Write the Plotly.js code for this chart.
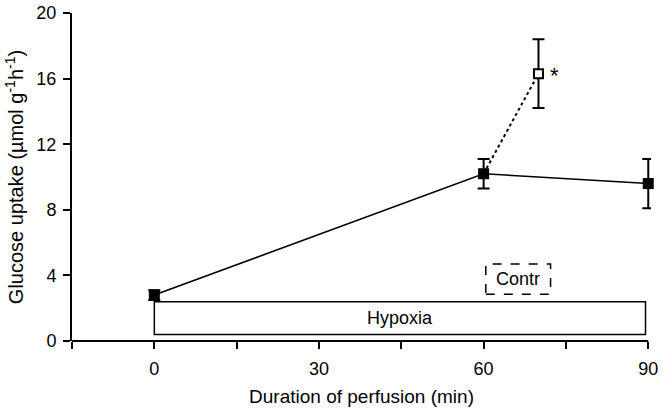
<!DOCTYPE html>
<html><head><meta charset="utf-8">
<script src="https://cdn.plot.ly/plotly-3.0.1.min.js"></script>
<style>body{margin:0;background:#fff}#c{width:664px;height:417px}</style>
</head><body><div id="c"></div>
<script>
// Data
const hypoxiaX = [0, 60, 90];
const hypoxiaY = [2.8, 10.2, 9.6];
const hypoxiaErr = [0.3, 0.9, 1.5];
const controlX = [60, 70];
const controlY = [10.2, 16.3];
const controlErr = [0, 2.1];
const xTickVals = [-15, 0, 15, 30, 45, 60, 75, 90];
const xTickText = ['', '0', '', '30', '', '60', '', '90'];
const yTickVals = [0, 4, 8, 12, 16, 20];
const xAxisSpan = [-15, 90];
const hypoxiaPeriod = [0, 89.5];
const hypoxiaBand = [0.4, 2.4];
const contrPeriod = [60.4, 72.2];
const contrBand = [2.85, 4.7];

const font = 'Liberation Sans, Arial, sans-serif';

const traces = [
  {
    x: controlX, y: controlY, mode: 'lines', type: 'scatter',
    line: {color: '#000', width: 2, dash: 'dot'}, hoverinfo: 'skip', showlegend: false, cliponaxis: false
  },
  {
    x: hypoxiaX, y: hypoxiaY, mode: 'lines+markers', type: 'scatter',
    line: {color: '#000', width: 1.6},
    marker: {symbol: 'square', size: 11, color: '#000'},
    error_y: {type: 'data', array: hypoxiaErr, visible: true, color: '#000', thickness: 2, width: 6},
    showlegend: false, cliponaxis: false
  },
  {
    x: [controlX[1]], y: [controlY[1]], mode: 'markers', type: 'scatter',
    marker: {symbol: 'square', size: 9, color: '#fff', line: {color: '#000', width: 2}},
    error_y: {type: 'data', array: [controlErr[1]], visible: true, color: '#000', thickness: 2, width: 6},
    showlegend: false, cliponaxis: false
  }
];

const layout = {
  width: 664, height: 417,
  margin: {l: 72, r: 13, t: 13, b: 76},
  paper_bgcolor: '#fff', plot_bgcolor: '#fff',
  font: {family: font, color: '#000', size: 18},
  xaxis: {
    range: [-15, 90.5], showgrid: false, zeroline: false,
    showline: false,
    ticks: 'outside', tickvals: xTickVals, ticktext: xTickText,
    ticklen: 7, tickwidth: 2, tickcolor: '#000',
    tickfont: {size: 18, family: font},
    ticklabelstandoff: 4,
    title: {text: 'Duration of perfusion (min)', font: {size: 19, family: font}, standoff: 12}
  },
  yaxis: {
    range: [0, 20], showgrid: false, zeroline: false,
    showline: true, linecolor: '#000', linewidth: 2,
    ticks: 'outside', tickvals: yTickVals,
    ticklen: 7, tickwidth: 2, tickcolor: '#000',
    tickfont: {size: 18, family: font},
    ticklabelstandoff: 3,
    title: {text: 'Glucose uptake (µmol g<sup>-1</sup>h<sup>-1</sup>)', font: {size: 20, family: font}, standoff: 7}
  },
  shapes: [
    {type: 'line', xref: 'x', yref: 'paper', x0: xAxisSpan[0], x1: xAxisSpan[1], y0: 0, y1: 0,
     line: {color: '#000', width: 2}},
    {type: 'rect', xref: 'x', yref: 'y', x0: hypoxiaPeriod[0], x1: hypoxiaPeriod[1], y0: hypoxiaBand[0], y1: hypoxiaBand[1],
     line: {color: '#000', width: 1.5}, fillcolor: 'rgba(0,0,0,0)', layer: 'below'},
    {type: 'rect', xref: 'x', yref: 'y', x0: contrPeriod[0], x1: contrPeriod[1], y0: contrBand[0], y1: contrBand[1],
     line: {color: '#000', width: 1.5, dash: 'dash'}, fillcolor: 'rgba(0,0,0,0)', layer: 'below'}
  ],
  annotations: [
    {x: (hypoxiaPeriod[0] + hypoxiaPeriod[1]) / 2, y: (hypoxiaBand[0] + hypoxiaBand[1]) / 2, xref: 'x', yref: 'y',
     text: 'Hypoxia', showarrow: false, font: {size: 18, family: font}},
    {x: (contrPeriod[0] + contrPeriod[1]) / 2, y: (contrBand[0] + contrBand[1]) / 2, xref: 'x', yref: 'y',
     text: 'Contr', showarrow: false, font: {size: 18, family: font}},
    {x: controlX[1], y: controlY[1], xref: 'x', yref: 'y', text: '*', showarrow: false,
     xshift: 16, yshift: -2, font: {size: 22, family: font}}
  ]
};

Plotly.newPlot('c', traces, layout, {displayModeBar: false, staticPlot: true});
</script>
</body></html>
